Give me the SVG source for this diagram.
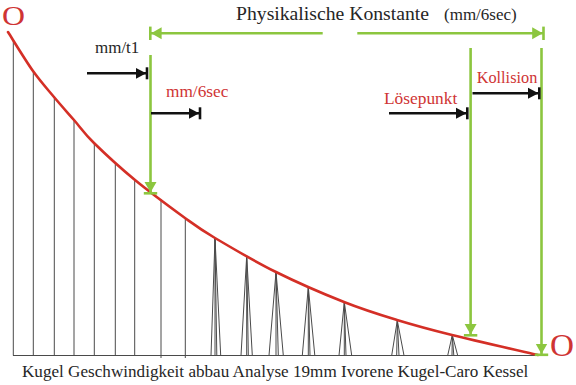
<svg xmlns="http://www.w3.org/2000/svg" width="576" height="385" viewBox="0 0 576 385">
<style>
.t{font-family:"Liberation Serif","Times New Roman",serif;}
.dark{fill:#262626;}
.red{fill:#cf3434;}
.grid line{stroke:#4a4a4a;stroke-width:1;}
.g{stroke:#8cc63f;stroke-width:2.6;fill:none;}
.k{stroke:#111;stroke-width:2.6;fill:none;}
</style>
<defs>
<marker id="ga" markerUnits="userSpaceOnUse" markerWidth="16" markerHeight="16" viewBox="0 -8 16 16" refX="11.3" refY="0" orient="auto">
<path d="M0,-6 L10.5,0 L0,6 Z" fill="#8cc63f"/>
<rect x="10" y="-6.7" width="2.6" height="13.4" fill="#8cc63f"/>
</marker>
<marker id="ka" markerUnits="userSpaceOnUse" markerWidth="16" markerHeight="16" viewBox="0 -8 16 16" refX="11.3" refY="0" orient="auto">
<path d="M0,-5.5 L10.5,0 L0,5.5 Z" fill="#111"/>
<rect x="10" y="-6" width="2.6" height="12" fill="#111"/>
</marker>
</defs>
<rect width="576" height="385" fill="#fff"/>

<g id="grid" class="grid">
<line x1="13" y1="355.5" x2="538" y2="355.5"/>
<line x1="13.3" y1="40" x2="13.3" y2="355.5"/>
<line x1="33.3" y1="72" x2="33.3" y2="355.5"/>
<line x1="54.3" y1="97" x2="54.3" y2="355.5"/>
<line x1="74" y1="120" x2="74" y2="355.5"/>
<line x1="94.3" y1="143" x2="94.3" y2="355.5"/>
<line x1="115.3" y1="163" x2="115.3" y2="355.5"/>
<line x1="134.7" y1="180" x2="134.7" y2="355.5"/>
<line x1="161" y1="199" x2="161" y2="358"/>
<line x1="185.3" y1="218" x2="185.3" y2="358"/>
</g>

<g id="triangles" class="grid">
<g id="tri1"><line x1="215" y1="238" x2="211" y2="355.5"/><line x1="215" y1="238" x2="215" y2="355.5"/><line x1="215" y1="238" x2="216.8" y2="355.5"/><line x1="215" y1="238" x2="220.7" y2="355.5"/></g>
<g id="tri2"><line x1="246.7" y1="256" x2="241" y2="355.5"/><line x1="246.7" y1="256" x2="246.7" y2="355.5"/><line x1="246.7" y1="256" x2="248.3" y2="355.5"/><line x1="246.7" y1="256" x2="252.3" y2="355.5"/></g>
<g id="tri3"><line x1="276" y1="272" x2="269" y2="355.5"/><line x1="276" y1="272" x2="276" y2="355.5"/><line x1="276" y1="272" x2="278.3" y2="355.5"/><line x1="276" y1="272" x2="283.3" y2="355.5"/></g>
<g id="tri4"><line x1="308.3" y1="287" x2="302.3" y2="355.5"/><line x1="308.3" y1="287" x2="308.3" y2="355.5"/><line x1="308.3" y1="287" x2="310" y2="355.5"/><line x1="308.3" y1="287" x2="314.8" y2="355.5"/></g>
<g id="tri5"><line x1="344.3" y1="302" x2="339" y2="355.5"/><line x1="344.3" y1="302" x2="344.3" y2="355.5"/><line x1="344.3" y1="302" x2="346" y2="355.5"/><line x1="344.3" y1="302" x2="351.7" y2="355.5"/></g>
<g id="tri6"><line x1="397.3" y1="320.5" x2="391.7" y2="355.5"/><line x1="397.3" y1="320.5" x2="396.7" y2="355.5"/><line x1="397.3" y1="320.5" x2="399" y2="355.5"/><line x1="397.3" y1="320.5" x2="404" y2="355.5"/></g>
<g id="tri7"><line x1="452.3" y1="335" x2="447.7" y2="355.5"/><line x1="452.3" y1="335" x2="452" y2="355.5"/><line x1="452.3" y1="335" x2="453.8" y2="355.5"/><line x1="452.3" y1="335" x2="457.7" y2="355.5"/></g>
</g>

<g id="curve">
<path d="M8,32 C12.2,38.5 25.3,60.2 33,71 C40.7,81.8 47.2,88.8 54,97 C60.8,105.2 67.3,112.3 74,120 C80.7,127.7 83.8,133 94,143 C104.2,153 119.8,167.5 135,180 C150.2,192.5 171.7,208.3 185,218 C198.3,227.7 199.8,229 215,238 C230.2,247 254.5,261.3 276,272 C297.5,282.7 323.8,294 344,302 C364.2,310 379,314.5 397,320 C415,325.5 428.5,329.2 452,335 C475.5,340.8 523.7,351.7 538,355" fill="none" stroke="#d42f26" stroke-width="2.6" stroke-linecap="round"/>
</g>

<g id="connectors">
<line class="g" x1="322.7" y1="33.3" x2="150.3" y2="33.3" marker-end="url(#ga)"/>
<line class="g" x1="357.3" y1="33.3" x2="543.5" y2="33.3" marker-end="url(#ga)"/>
<line class="g" x1="150.5" y1="55" x2="150.5" y2="193.3" marker-end="url(#ga)"/>
<line class="g" x1="470.6" y1="48" x2="470.6" y2="335.3" marker-end="url(#ga)"/>
<line class="g" x1="541.5" y1="48" x2="541.5" y2="354.8" marker-end="url(#ga)"/>
<line class="k" x1="87" y1="73.3" x2="147" y2="73.3" marker-end="url(#ka)"/>
<line class="k" x1="151" y1="113.3" x2="200" y2="113.3" marker-end="url(#ka)"/>
<line class="k" x1="389" y1="113.3" x2="467.3" y2="113.3" marker-end="url(#ka)"/>
<line class="k" x1="472.5" y1="93.3" x2="539.3" y2="93.3" marker-end="url(#ka)"/>
</g>

<g id="labels">
<text class="t red" x="2" y="25" font-size="28" textLength="23" lengthAdjust="spacingAndGlyphs">O</text>
<text class="t red" x="550" y="356" font-size="32" textLength="24" lengthAdjust="spacingAndGlyphs">O</text>
<text class="t dark" x="236" y="20.3" font-size="19.5" textLength="193" lengthAdjust="spacingAndGlyphs">Physikalische Konstante</text>
<text class="t dark" x="444" y="20.3" font-size="16" textLength="72.7" lengthAdjust="spacingAndGlyphs">(mm/6sec)</text>
<text class="t dark" x="95" y="52.7" font-size="17" textLength="44.3" lengthAdjust="spacingAndGlyphs">mm/t1</text>
<text class="t red" x="166" y="96.7" font-size="17" textLength="62.3" lengthAdjust="spacingAndGlyphs">mm/6sec</text>
<text class="t red" x="384" y="104" font-size="17" textLength="73.3" lengthAdjust="spacingAndGlyphs">Lösepunkt</text>
<text class="t red" x="476.7" y="83.3" font-size="17" textLength="60.6" lengthAdjust="spacingAndGlyphs">Kollision</text>
<text class="t dark" x="22" y="376.7" font-size="16.5" textLength="506.3" lengthAdjust="spacingAndGlyphs">Kugel Geschwindigkeit abbau Analyse 19mm Ivorene Kugel-Caro Kessel</text>
</g>
</svg>
